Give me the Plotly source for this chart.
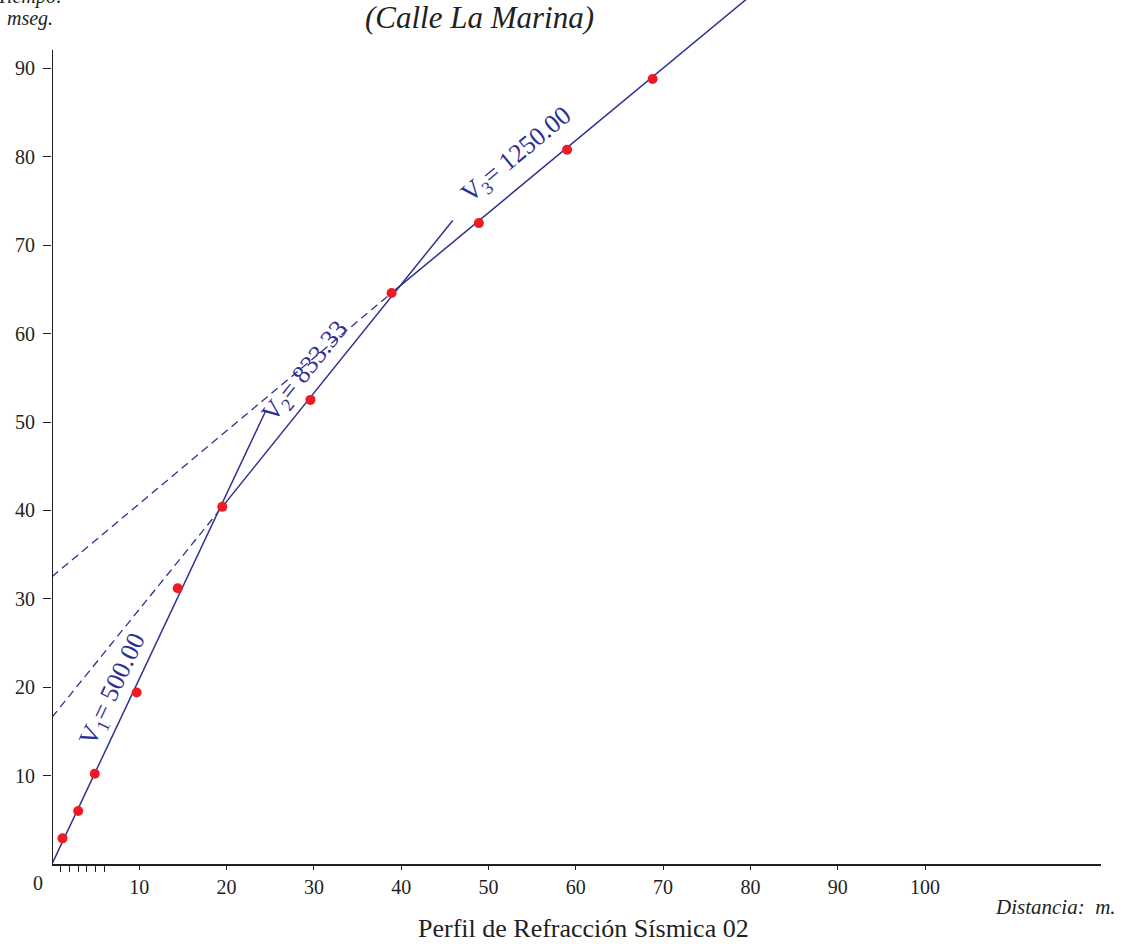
import plotly.graph_objects as go

# ---- data ----
dist = [1.2, 3.0, 4.9, 9.7, 14.4, 19.5, 29.6, 38.9, 48.9, 59.0, 68.8]          # m
time = [2.9, 6.0, 10.2, 19.4, 31.2, 40.4, 52.5, 64.6, 72.5, 80.8, 88.8]        # ms

v1_x = [0, 24.5]
v1_t = [0, 51.3]
v2_dash_x = [0, 19.5]
v2_dash_t = [16.6, 40.4]
v2_x = [19.5, 45.9]
v2_t = [40.4, 72.8]
v3_dash_x = [0, 38.9]
v3_dash_t = [32.5, 64.6]
v3_x = [38.9, 80.0]
v3_t = [64.6, 98.2]

vel_names = ["1", "2", "3"]
vel_values = ["500.00", "833.33", "1250.00"]
label_x = [7.0, 29.0, 53.3]
label_t = [19.7, 55.7, 80.2]
label_angle = [-64.5, -51.5, -39.6]

x_ticks = [10, 20, 30, 40, 50, 60, 70, 80, 90, 100]
x_minor = [1, 2, 3, 4, 5, 6]
y_ticks = [10, 20, 30, 40, 50, 60, 70, 80, 90]

NAVY = "#2E3192"
RED = "#ED1C24"
INK = "#231F20"
SERIF = "Liberation Serif"

fig = go.Figure()

solid = dict(color=NAVY, width=1.5)
dashed = dict(color=NAVY, width=1.3, dash="8px,5px")

for xs, ts, ln in [(v2_dash_x, v2_dash_t, dashed), (v3_dash_x, v3_dash_t, dashed),
                   (v1_x, v1_t, solid), (v2_x, v2_t, solid), (v3_x, v3_t, solid)]:
    fig.add_trace(go.Scatter(x=xs, y=ts, mode="lines", line=ln,
                             hoverinfo="skip", showlegend=False))

fig.add_trace(go.Scatter(x=dist, y=time, mode="markers",
                         marker=dict(color=RED, size=10, line=dict(width=0)),
                         showlegend=False))

# y axis line drawn only up to 92
fig.add_shape(type="line", xref="x", yref="y", x0=0, x1=0, y0=0, y1=92.1,
              line=dict(color=INK, width=2))

for n, v, lx, lt, a in zip(vel_names, vel_values, label_x, label_t, label_angle):
    fig.add_annotation(x=lx, y=lt, xref="x", yref="y", showarrow=False,
                       text=f"V<sub>{n}</sub>= {v}", textangle=a,
                       font=dict(family=SERIF, size=26, color=NAVY))

W, H = 1126, 944
L, R, T, B = 52, 25, 0, 80
pw, ph = W - L - R, H - T - B

def px(x):
    return (x - L) / pw

def py(y):
    return (H - B - y) / ph

texts = [
    ("(Calle La Marina)", 479, 17, 31, "italic", "center"),
    ("Tiempo:", 30, -4, 20, "italic", "center"),
    ("mseg.", 30, 18, 20, "italic", "center"),
    ("0", 38, 883, 20, "normal", "center"),
    ("Distancia:  m.", 1118, 907, 21, "italic", "right"),
    ("Perfil de Refracción Sísmica 02", 583, 929, 26, "normal", "center"),
]
for t, x, y, s, st, xa in texts:
    fig.add_annotation(x=px(x), y=py(y), xref="paper", yref="paper", showarrow=False,
                       text=t, xanchor=xa, yanchor="middle",
                       font=dict(family=SERIF, size=s, color=INK, style=st))

fig.update_layout(
    width=W, height=H, autosize=False,
    margin=dict(l=L, r=R, t=T, b=B),
    paper_bgcolor="white", plot_bgcolor="white",
    font=dict(family=SERIF, color=INK),
    xaxis=dict(range=[0, pw / 8.73], showgrid=False, zeroline=False,
               showline=True, linecolor=INK, linewidth=2,
               tickmode="array", tickvals=x_ticks, ticktext=[str(v) for v in x_ticks],
               ticks="outside", ticklen=4, tickwidth=1, tickcolor=INK,
               tickfont=dict(family=SERIF, size=20, color=INK),
               minor=dict(tickmode="array", tickvals=x_minor, ticks="outside",
                          ticklen=6, tickwidth=1, tickcolor=INK, showgrid=False)),
    yaxis=dict(range=[0, ph / 8.84], showgrid=False, zeroline=False, showline=False,
               tickmode="array", tickvals=y_ticks, ticktext=[str(v) for v in y_ticks],
               ticks="outside", ticklen=8, tickwidth=1, tickcolor=INK,
               tickfont=dict(family=SERIF, size=20, color=INK),
               ticklabelstandoff=4),
)

fig.write_html("out.html", config={"displayModeBar": False},
               post_script="document.body.style.margin='0';document.body.style.overflow='hidden';")
